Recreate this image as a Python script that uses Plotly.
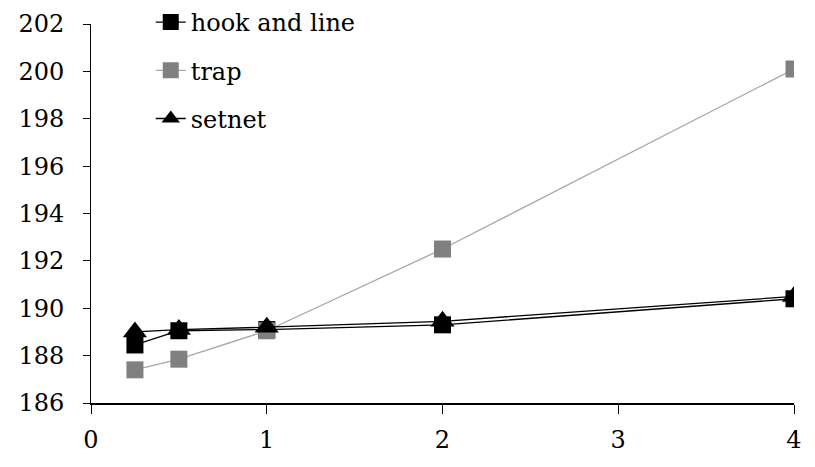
import plotly.graph_objects as go

x_vals = [0.25, 0.5, 1, 2, 4]
hook_and_line = [188.45, 189.05, 189.1, 189.3, 190.4]
trap = [187.4, 187.85, 189.05, 192.5, 200.1]
setnet = [189.0, 189.1, 189.2, 189.45, 190.5]

x_ticks = [0, 1, 2, 3, 4]
y_ticks = [186, 188, 190, 192, 194, 196, 198, 200, 202]

font = dict(family="DejaVu Serif", size=24, color="black")

fig = go.Figure()
fig.add_trace(go.Scatter(
    x=x_vals, y=hook_and_line, name="hook and line", mode="lines+markers",
    line=dict(color="black", width=1.3),
    marker=dict(symbol="square", size=17, color="black"),
    legendgroup="a",
))
fig.add_trace(go.Scatter(
    x=x_vals, y=trap, name="trap", mode="lines+markers",
    line=dict(color="#a6a6a6", width=1.3),
    marker=dict(symbol="square", size=17, color="#808080"),
    legendgroup="b",
))
fig.add_trace(go.Scatter(
    x=x_vals, y=setnet, name="setnet", mode="lines+markers",
    line=dict(color="black", width=1.3),
    marker=dict(symbol="triangle-up", size=21, color="black"),
    legendgroup="c",
))

fig.update_layout(
    width=815, height=467,
    margin=dict(l=91, r=21, t=24, b=64, autoexpand=False),
    paper_bgcolor="white", plot_bgcolor="white",
    font=font,
    showlegend=True,
    legend=dict(
        x=0.085, y=1.012, xref="paper", yref="container",
        xanchor="left", yanchor="top",
        bgcolor="rgba(0,0,0,0)", font=font,
        traceorder="grouped", tracegroupgap=14,
    ),
)
fig.update_xaxes(
    range=[0, 4], tickvals=x_ticks, showgrid=False, zeroline=False,
    showline=True, linecolor="black", linewidth=1.5, automargin=False,
    ticks="outside", ticklen=9, tickcolor="black", ticklabelstandoff=5,
    tickfont=font,
)
fig.update_yaxes(
    range=[186, 202], tickvals=y_ticks, showgrid=False, zeroline=False,
    showline=True, linecolor="black", linewidth=1, automargin=False,
    ticks="outside", ticklen=7, tickcolor="black", ticklabelstandoff=14,
    tickfont=font,
)

fig.write_html(
    "out.html",
    config={"displayModeBar": False},
    post_script="document.body.style.margin='0';",
)
